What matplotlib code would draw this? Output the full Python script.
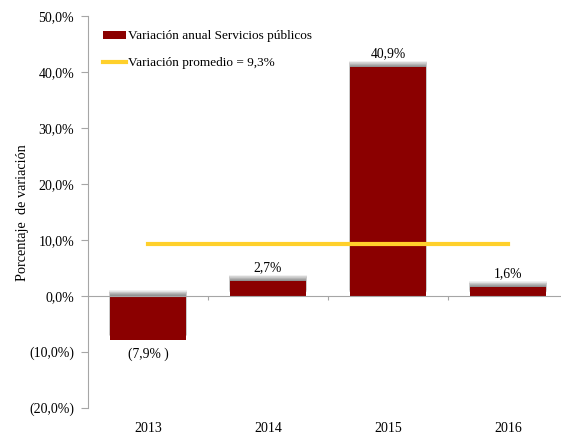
import matplotlib
matplotlib.use("Agg")
import matplotlib.pyplot as plt
from matplotlib.patches import Patch
from matplotlib.lines import Line2D
from matplotlib.ticker import FuncFormatter

plt.rcParams['font.family'] = ['Liberation Serif', 'DejaVu Serif']

years = ['2013', '2014', '2015', '2016']
variacion_anual = [-7.9, 2.7, 40.9, 1.6]
variacion_promedio = 9.3
y_ticks = [-20, -10, 0, 10, 20, 30, 40, 50]

BAR_COLOR = '#8B0000'
AVG_COLOR = '#FFD02B'
AXIS_GREY = '#A6A6A6'


def pct(v, pad=''):
    s = f"{abs(v):.1f}".replace('.', ',') + '%'
    return f"({s}{pad})" if v < 0 else s


W, H = 561, 434
fig = plt.figure(figsize=(W / 100, H / 100), dpi=100)
ax = fig.add_axes([88 / W, (H - 408) / H, 480 / W, 392 / H])

x = list(range(len(years)))
width = 0.63

# blurred grey shadow peeking out above each bar
for i in range(10):
    off = 0.1 + i * 0.1
    ax.bar(x, variacion_anual, width=width + 0.002 * i, bottom=off,
           color='#404040', alpha=0.08, linewidth=0, zorder=1)
ax.bar(x, variacion_anual, width=width, color=BAR_COLOR, linewidth=0, zorder=2)

ax.plot([x[0], x[-1]], [variacion_promedio] * 2, color=AVG_COLOR, lw=3, zorder=3)

for xi, v in zip(x, variacion_anual):
    if v >= 0:
        ax.text(xi, v + 1.2, pct(v), ha='center', va='bottom', fontsize=9.8)
    else:
        ax.text(xi, v - 1.3, pct(v, ' '), ha='center', va='top', fontsize=9.8)

ax.set_xlim(-0.5, len(years) - 0.5)
ax.set_ylim(-20, 50)
ax.set_yticks(y_ticks)
ax.yaxis.set_major_formatter(FuncFormatter(lambda v, p: pct(v)))
ax.tick_params(axis='y', labelsize=10, length=5, width=0.8, color=AXIS_GREY, pad=5)

# x axis runs along zero, with category ticks between bars
ax.spines['bottom'].set_position(('data', 0))
ax.set_xticks([i + 0.5 for i in x[:-1]])
ax.tick_params(axis='x', labelbottom=False, length=3, width=0.8, color=AXIS_GREY)
for s in ['top', 'right']:
    ax.spines[s].set_visible(False)
for s in ['left', 'bottom']:
    ax.spines[s].set_color(AXIS_GREY)
    ax.spines[s].set_linewidth(0.8)

for xi, yr in zip(x, years):
    ax.text(xi, -0.035, yr, transform=ax.get_xaxis_transform(),
            ha='center', va='top', fontsize=10)

ax.set_ylabel('Porcentaje  de variación', fontsize=10.3)
ax.yaxis.set_label_coords(29 / W, (H - 213) / H, transform=fig.transFigure)

handles = [Patch(facecolor=BAR_COLOR, edgecolor='none'),
           Line2D([], [], color=AVG_COLOR, lw=3)]
labels = ['Variación anual Servicios públicos', 'Variación promedio = 9,3%']
ax.legend(handles, labels, loc='upper left', bbox_to_anchor=(98 / W, (H - 25) / H),
          bbox_transform=fig.transFigure, frameon=False, fontsize=9.5,
          handlelength=1.7, handleheight=0.55, handletextpad=0.15, labelspacing=1.15,
          borderaxespad=0)

fig.savefig('out.png', dpi=100)
